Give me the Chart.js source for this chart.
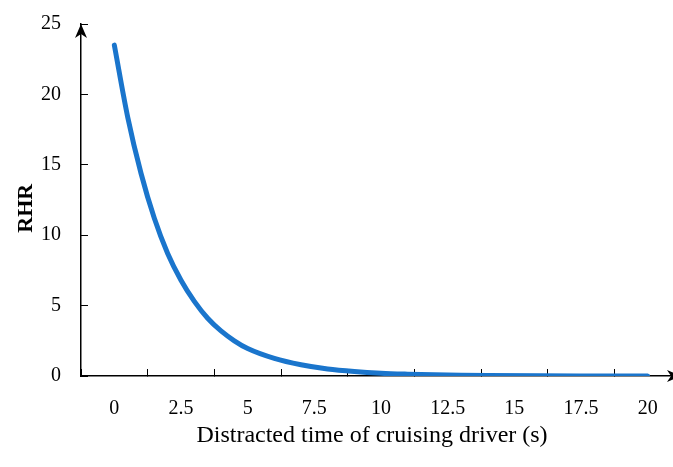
<!DOCTYPE html>
<html>
<head>
<meta charset="utf-8">
<script src="https://cdn.jsdelivr.net/npm/chart.js@4"></script>
<style>
  html, body { margin: 0; padding: 0; background: #fff; overflow: hidden; }
  #wrap { width: 700px; height: 467px; }
</style>
</head>
<body>
<div id="wrap"><canvas id="chart" width="700" height="467"></canvas></div>
<script>
// values
const timeSec = [0, 0.5, 1, 1.5, 2, 2.5, 3, 3.5, 4, 4.5, 5, 6, 7, 8, 9, 10, 11, 12, 13, 14, 16, 18, 20];
const rhrValues = [23.5, 18.4, 14.4, 11.2, 8.7, 6.8, 5.3, 4.1, 3.2, 2.5, 1.95, 1.25, 0.8, 0.5, 0.32, 0.2, 0.13, 0.08, 0.05, 0.03, 0.01, 0.005, 0.002];
const xTickLabels = [0, 2.5, 5, 7.5, 10, 12.5, 15, 17.5, 20];
const yTickLabels = [0, 5, 10, 15, 20, 25];

const serif = "'Liberation Serif', 'Times New Roman', serif";

// axis arrows, Excel "stealth" style
const axisArrows = {
    id: 'axisArrows',
    afterDraw(chart) {
        const ctx = chart.ctx;
        const x = chart.scales.x, y = chart.scales.y;
        const ox = x.getPixelForValue(x.min);
        const topY = y.getPixelForValue(y.max);
        const endX = x.getPixelForValue(x.max);
        const oy = y.getPixelForValue(0);
        ctx.save();
        ctx.fillStyle = '#000';
        ctx.beginPath();
        ctx.moveTo(ox, topY);
        ctx.lineTo(ox - 6, topY + 14);
        ctx.lineTo(ox, topY + 10);
        ctx.lineTo(ox + 6, topY + 14);
        ctx.closePath();
        ctx.fill();
        ctx.beginPath();
        ctx.moveTo(endX, oy);
        ctx.lineTo(endX - 14, oy - 6);
        ctx.lineTo(endX - 10, oy);
        ctx.lineTo(endX - 14, oy + 6);
        ctx.closePath();
        ctx.fill();
        ctx.restore();
    }
};

new Chart(document.getElementById('chart'), {
    type: 'line',
    data: {
        datasets: [{
            data: timeSec.map((t, i) => ({ x: t, y: rhrValues[i] })),
            borderColor: '#1a75cc',
            borderWidth: 5,
            pointRadius: 0,
            cubicInterpolationMode: 'monotone',
            borderCapStyle: 'round',
            fill: false
        }]
    },
    options: {
        responsive: false,
        animation: false,
        layout: { padding: { top: 24, right: 19, left: 0, bottom: 0 } },
        plugins: { legend: { display: false }, tooltip: { enabled: false } },
        scales: {
            x: {
                type: 'linear',
                min: -1.25,
                max: 21.25,
                afterBuildTicks: axis => { axis.ticks = xTickLabels.map(v => ({ value: v })); },
                afterFit: axis => { axis.height = 91; axis.paddingLeft = 0; axis.paddingRight = 0; },
                grid: { display: true, offset: true, drawOnChartArea: false, drawTicks: true, tickLength: -7, color: '#000', lineWidth: 1 },
                border: { display: true, color: '#000', width: 1.5 },
                ticks: { color: '#000', font: { family: serif, size: 20 }, padding: 28, autoSkip: false, maxRotation: 0 },
                title: {
                    display: true,
                    // trailing spaces nudge the centred title left like the original
                    text: 'Distracted time of cruising driver (s)   ',
                    color: '#000',
                    font: { family: serif, size: 24 },
                    padding: { top: 0, bottom: 17 }
                }
            },
            y: {
                min: 0,
                max: 25,
                afterBuildTicks: axis => { axis.ticks = yTickLabels.map(v => ({ value: v })); },
                afterFit: axis => { axis.width = 81; axis.paddingTop = 0; axis.paddingBottom = 0; },
                grid: { display: true, drawOnChartArea: false, drawTicks: true, tickLength: -7, color: '#000', lineWidth: 1 },
                border: { display: true, color: '#000', width: 1.5 },
                ticks: { color: '#000', font: { family: serif, size: 20 }, padding: 27 },
                title: {
                    display: true,
                    // same trick, pushes the rotated title a little lower
                    text: 'RHR   ',
                    color: '#000',
                    font: { family: serif, size: 22, weight: 'bold' },
                    padding: { top: 13, bottom: 0 }
                }
            }
        }
    },
    plugins: [axisArrows]
});
</script>
</body>
</html>
